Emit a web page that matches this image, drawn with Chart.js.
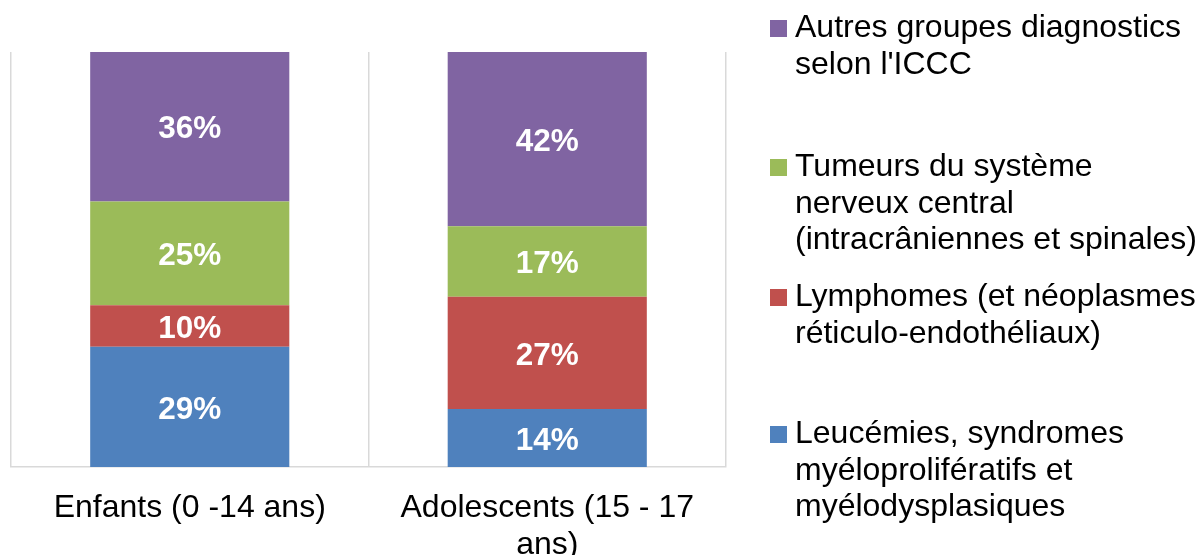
<!DOCTYPE html>
<html>
<head>
<meta charset="utf-8">
<script src="https://cdn.jsdelivr.net/npm/chart.js@4/dist/chart.umd.min.js"></script>
<style>
  html, body { margin: 0; padding: 0; background: #fff; }
  #wrap { width: 1200px; height: 555px; }
</style>
</head>
<body>
<div id="wrap"><canvas id="chart" width="1200" height="555"></canvas></div>
<script>
const categories = ['Enfants (0 -14 ans)', ['Adolescents (15 - 17', 'ans)']]

const seriesNames = [
  'Leucémies, syndromes myéloprolifératifs et myélodysplasiques',
  'Lymphomes (et néoplasmes réticulo-endothéliaux)',
  'Tumeurs du système nerveux central (intracrâniennes et spinales)',
  "Autres groupes diagnostics selon l'ICCC",
]

// legend text as it is wrapped in the picture
const legendLines = [
  ['Leucémies, syndromes', 'myéloprolifératifs et', 'myélodysplasiques'],
  ['Lymphomes (et néoplasmes', 'réticulo-endothéliaux)'],
  ['Tumeurs du système', 'nerveux central', '(intracrâniennes et spinales)'],
  ['Autres groupes diagnostics', "selon l'ICCC"],
]

const leucemies = [29, 14]
const lymphomes = [10, 27]
const tumeursSnc = [25, 17]
const autres = [36, 42]

const yTicks = [0, 100]

const colors = ['#4F81BD', '#C0504D', '#9BBB59', '#8064A2']
const FONT = '"Liberation Sans", Arial, sans-serif'

Chart.defaults.font.family = FONT

// white percentages in the middle of each segment
const segmentLabels = {
  id: 'segmentLabels',
  afterDatasetsDraw(chart) {
    const ctx = chart.ctx
    ctx.save()
    ctx.font = 'bold 31.5px ' + FONT
    ctx.fillStyle = '#fff'
    ctx.textAlign = 'center'
    ctx.textBaseline = 'middle'
    chart.data.datasets.forEach((ds, i) => {
      chart.getDatasetMeta(i).data.forEach((bar, j) => {
        ctx.fillText(ds.data[j] + '%', bar.x, (bar.y + bar.base) / 2 + 3)
      })
    })
    ctx.restore()
  },
}

// legend on the right, top entry = top of the stack
const sideLegend = {
  id: 'sideLegend',
  afterDraw(chart) {
    const ctx = chart.ctx
    const baselines = [37, 176, 306, 443]
    const lineGap = 36.5
    ctx.save()
    ctx.font = '32px ' + FONT
    ctx.textAlign = 'left'
    ctx.textBaseline = 'alphabetic'
    const order = [3, 2, 1, 0]
    order.forEach((idx, k) => {
      const y0 = baselines[k]
      ctx.fillStyle = colors[idx]
      ctx.fillRect(770, y0 - 17, 17, 17)
      ctx.fillStyle = '#000'
      legendLines[idx].forEach((line, n) => {
        ctx.fillText(line, 795, y0 + n * lineGap)
      })
    })
    ctx.restore()
  },
}

const series = [leucemies, lymphomes, tumeursSnc, autres]

new Chart(document.getElementById('chart'), {
  type: 'bar',
  data: {
    labels: categories,
    datasets: series.map((data, i) => ({
      label: seriesNames[i],
      data,
      backgroundColor: colors[i],
      borderWidth: 0,
      barPercentage: 1,
      categoryPercentage: 0.557,
    })),
  },
  options: {
    responsive: false,
    animation: false,
    layout: { padding: { left: 11, right: 474, top: 52, bottom: 0 } },
    plugins: {
      legend: { display: false },
      tooltip: { enabled: false },
    },
    scales: {
      x: {
        stacked: true,
        grid: { display: true, offset: true, drawTicks: false, color: '#d9d9d9', lineWidth: 1.5 },
        border: { display: true, color: '#d9d9d9', width: 1.5 },
        ticks: {
          color: '#000',
          padding: 23,
          maxRotation: 0,
          font: { size: 32, lineHeight: 1.14 },
        },
        afterFit(scale) { scale.height = 88 },
      },
      y: {
        stacked: true,
        display: false,
        min: yTicks[0],
        max: yTicks[1],
      },
    },
  },
  plugins: [segmentLabels, sideLegend],
})
</script>
</body>
</html>
